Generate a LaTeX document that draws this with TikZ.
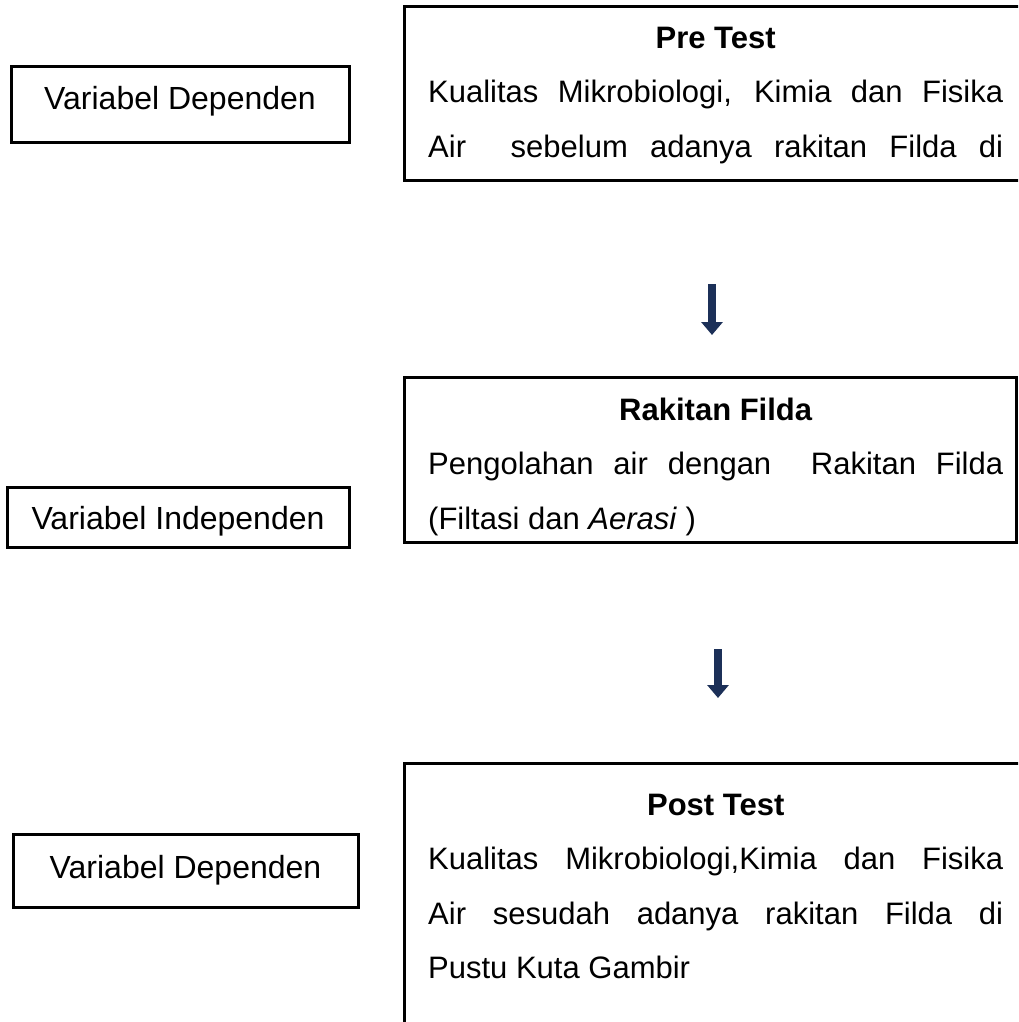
\documentclass[tikz,border=0pt]{standalone}
\usepackage{fontspec}
\setmainfont{Liberation Sans}
\usetikzlibrary{arrows.meta}
\definecolor{mnavy}{RGB}{28,48,88}
\tolerance=10000
\hyphenpenalty=10000
\tikzset{box/.style = {draw, line width=3pt, inner sep=0pt, outer sep=0pt, anchor=north west},
         varbox/.style = {box, font=\fontsize{32}{38}\selectfont},
         body/.style = {inner sep=0pt, anchor=north west, text width=575pt, align=justify,
                        font=\fontsize{31}{54.5}\selectfont},
         flow/.style = {mnavy, line width=8pt, -{Triangle[width=21pt,length=13pt]}}}

\begin{document}
\begin{tikzpicture}[x=1pt, y=-1pt]
    \clip (0, 0) rectangle (1018, 1022);

    % variabel
    \node [varbox, minimum width=338pt, text height=43pt, text depth=32pt] (dep1) at (11, 67) {Variabel Dependen};
    \node [varbox, minimum width=342pt, text height=42pt, text depth=18pt] (indep) at (7, 487) {Variabel Independen};
    \node [varbox, minimum width=345pt, text height=44pt, text depth=29pt] (dep2) at (13, 834) {Variabel Dependen};

    % pre test
    \node [box, minimum width=640pt, minimum height=173pt] (pre) at (404, 7) {};
    \node [body] (pretxt) at ([shift={(24, 17)}]pre.north west)
        {{\centering\bfseries\rule{0pt}{24pt}Pre Test\par}
         {\parfillskip=0pt Kualitas Mikrobiologi, Kimia dan Fisika\linebreak
          Air\ \ sebelum adanya rakitan Filda di\par}};

    % rakitan
    \node [box, minimum width=612pt, minimum height=165pt] (rak) at (404, 377) {};
    \node [body] (raktxt) at ([shift={(24, 19)}]rak.north west)
        {{\centering\bfseries\rule{0pt}{24pt}Rakitan Filda\par}
         Pengolahan air dengan\ \ Rakitan Filda\linebreak
         (Filtasi dan \textit{Aerasi} )\par};

    % post test
    \node [box, minimum width=640pt, minimum height=300pt] (post) at (404, 763) {};
    \node [body] (posttxt) at ([shift={(24, 28)}]post.north west)
        {{\centering\bfseries\rule{0pt}{24pt}Post Test\par}
         Kualitas Mikrobiologi,Kimia dan Fisika\linebreak
         Air sesudah adanya rakitan Filda di\linebreak
         Pustu Kuta Gambir\par};

    \coordinate (a1top) at (712, 284);
    \coordinate (a1tip) at (712, 335);
    \coordinate (a2top) at (718, 649);
    \coordinate (a2tip) at (718, 698);
    \draw [flow] (a1top) -- (a1tip);
    \draw [flow] (a2top) -- (a2tip);
\end{tikzpicture}
\end{document}
